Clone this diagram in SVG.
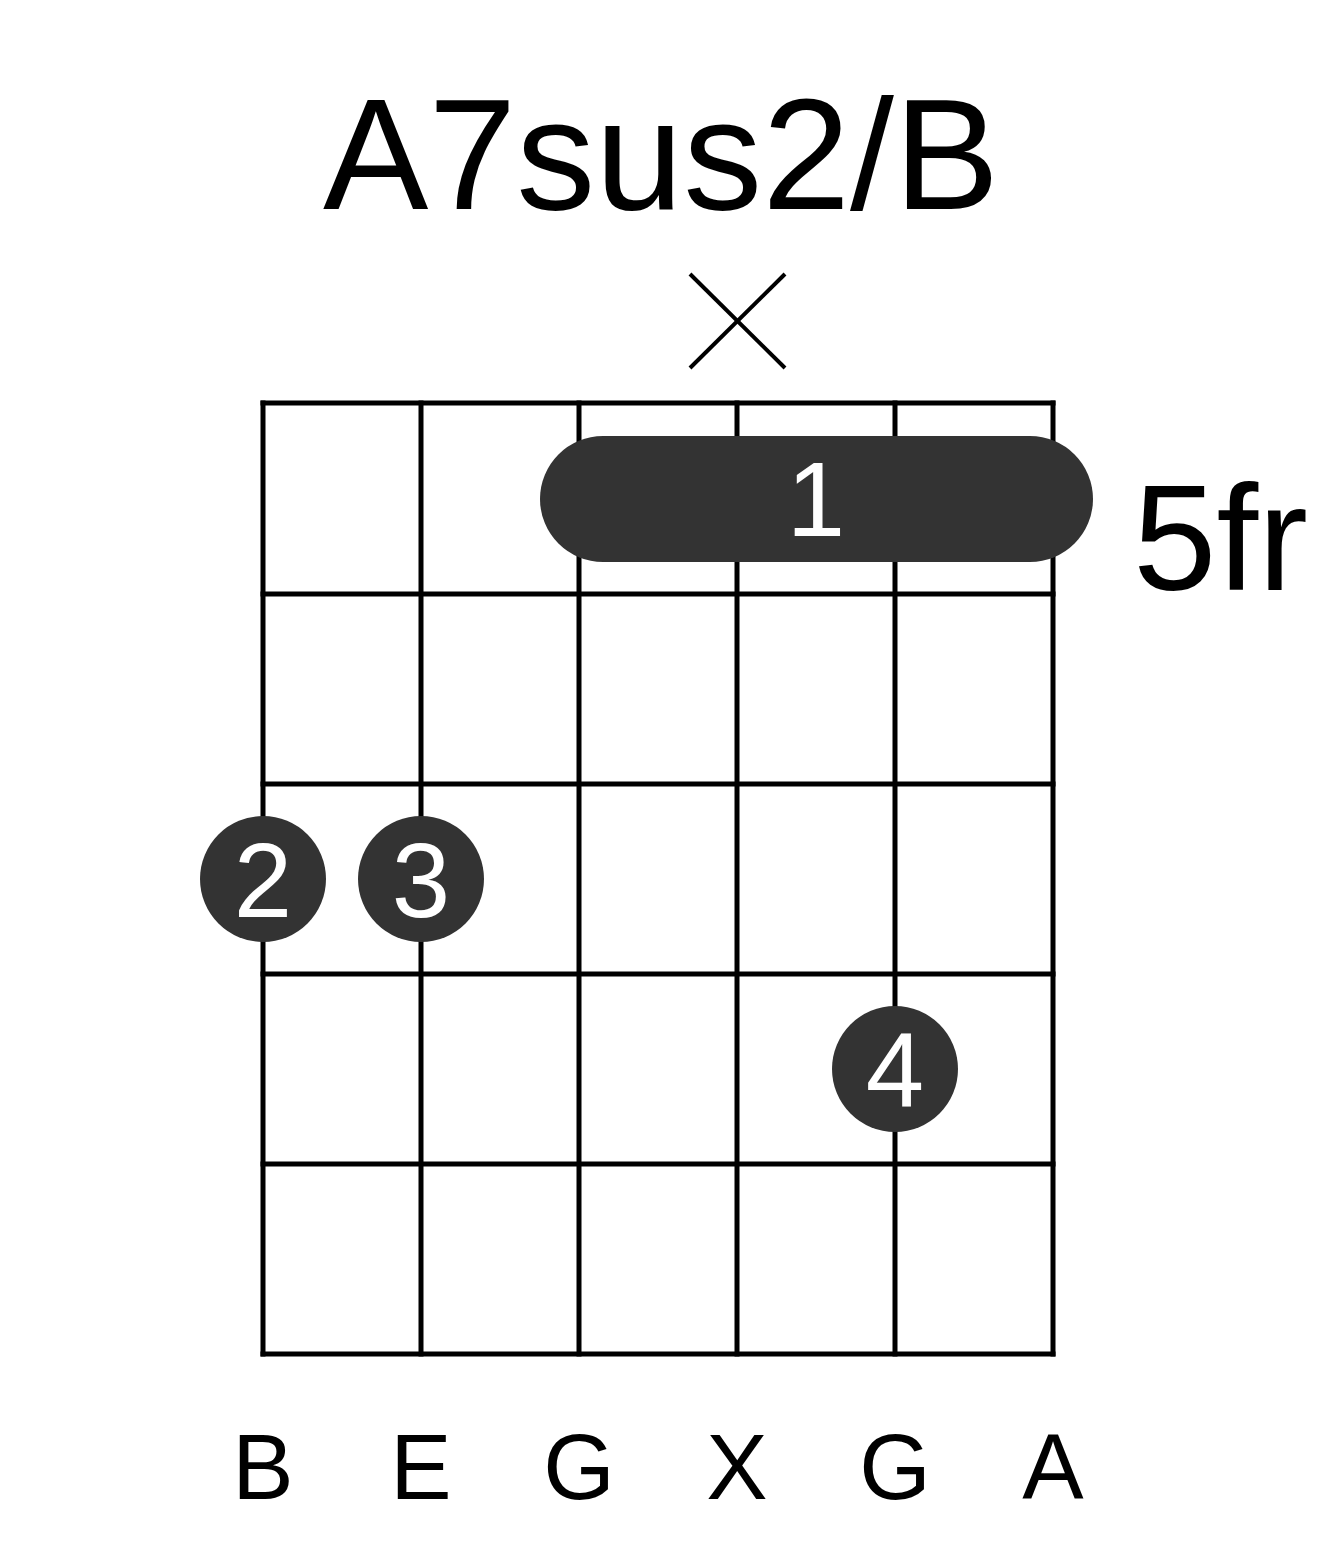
<svg xmlns="http://www.w3.org/2000/svg" width="1317" height="1551" viewBox="0 0 1317 1551">
  <style>
    .txt { font-family: "Liberation Sans", Arial, sans-serif; fill: #000; }
    .grid line { stroke: #000; stroke-width: 5; stroke-linecap: square; }
    .dot { fill: #333333; }
    .finger { font-family: "Liberation Sans", Arial, sans-serif; font-size: 105px; fill: #fff; text-anchor: middle; }
    .str { font-family: "Liberation Sans", Arial, sans-serif; font-size: 92px; fill: #000; text-anchor: middle; }
  </style>
  <rect x="0" y="0" width="1317" height="1551" fill="#fff"/>
  <g id="title">
    <text class="txt" x="323" y="209" font-size="158">A7sus2/B</text>
  </g>
  <g id="mute-marker">
    <line x1="690" y1="274" x2="785" y2="368" stroke="#000" stroke-width="4"/>
    <line x1="785" y1="274" x2="690" y2="368" stroke="#000" stroke-width="4"/>
  </g>
  <g id="grid" class="grid">
    <line x1="263" y1="403" x2="1053" y2="403"/>
    <line x1="263" y1="594" x2="1053" y2="594"/>
    <line x1="263" y1="784" x2="1053" y2="784"/>
    <line x1="263" y1="974" x2="1053" y2="974"/>
    <line x1="263" y1="1164" x2="1053" y2="1164"/>
    <line x1="263" y1="1354" x2="1053" y2="1354"/>
    <line x1="263" y1="403" x2="263" y2="1354"/>
    <line x1="421" y1="403" x2="421" y2="1354"/>
    <line x1="579" y1="403" x2="579" y2="1354"/>
    <line x1="737" y1="403" x2="737" y2="1354"/>
    <line x1="895" y1="403" x2="895" y2="1354"/>
    <line x1="1053" y1="403" x2="1053" y2="1354"/>
  </g>
  <g id="barre-1">
    <rect class="dot" x="540" y="436" width="553" height="126" rx="63" ry="63"/>
    <text class="finger" x="816" y="536">1</text>
  </g>
  <g id="fret-label">
    <text class="txt" x="1133" y="590" font-size="150">5fr</text>
  </g>
  <g id="dot-2">
    <circle class="dot" cx="263" cy="879" r="63"/>
    <text class="finger" x="263" y="917">2</text>
  </g>
  <g id="dot-3">
    <circle class="dot" cx="421" cy="879" r="63"/>
    <text class="finger" x="421" y="917">3</text>
  </g>
  <g id="dot-4">
    <circle class="dot" cx="895" cy="1069" r="63"/>
    <text class="finger" x="895" y="1107">4</text>
  </g>
  <g id="string-labels">
    <text class="str" x="263" y="1499">B</text>
    <text class="str" x="421" y="1499">E</text>
    <text class="str" x="579" y="1499">G</text>
    <text class="str" x="737" y="1499">X</text>
    <text class="str" x="895" y="1499">G</text>
    <text class="str" x="1053" y="1499">A</text>
  </g>
  <g id="connectors"></g>
</svg>
